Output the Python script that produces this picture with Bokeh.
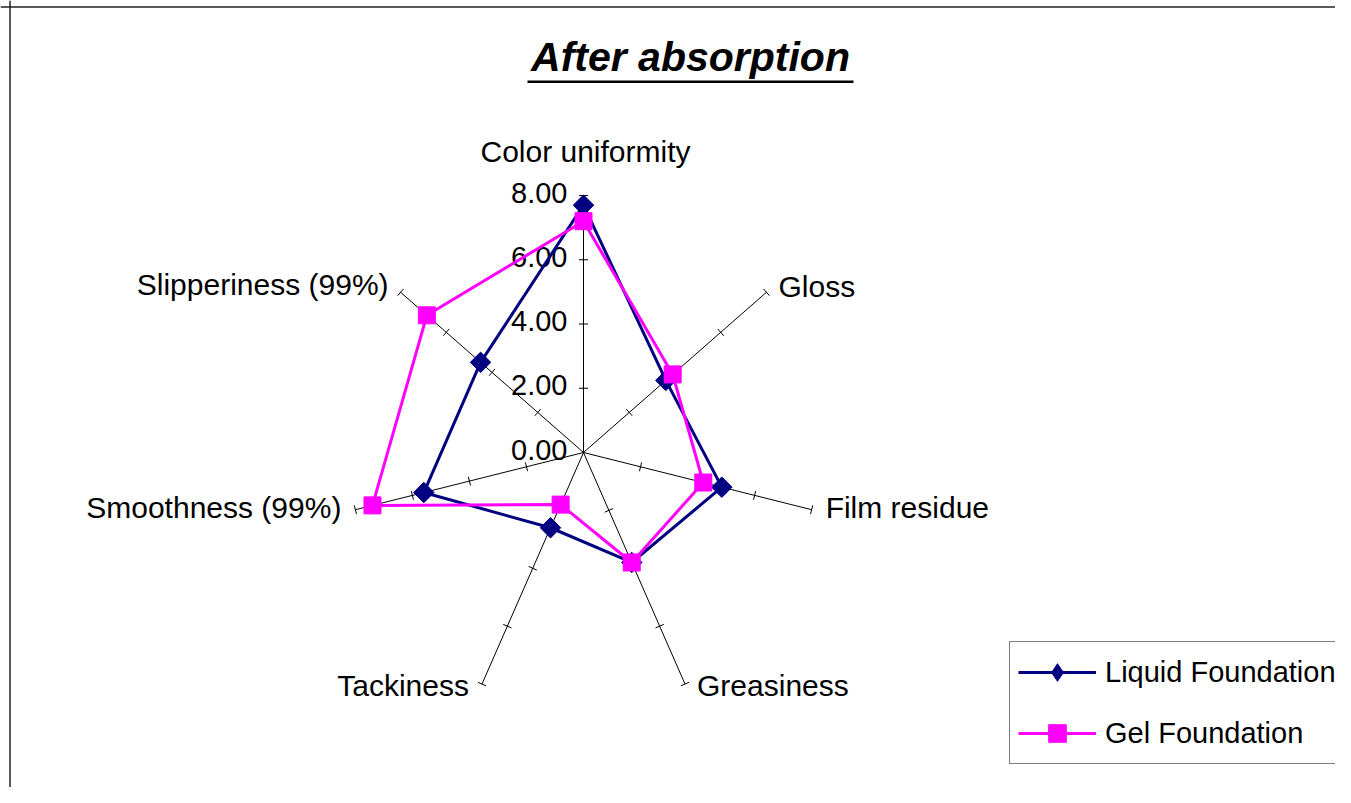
import numpy as np
from bokeh.plotting import figure
from bokeh.models import Legend, LegendItem, BoxAnnotation, Span, Label
from bokeh.core.properties import value
from bokeh.embed import file_html
from bokeh.resources import INLINE

# ---------------- data ----------------
categories = ["Color uniformity", "Gloss", "Film residue", "Greasiness",
              "Tackiness", "Smoothness (99%)", "Slipperiness (99%)"]
liquid_foundation = [7.7, 3.6, 4.85, 3.8, 2.6, 5.6, 4.5]
gel_foundation = [7.2, 3.9, 4.2, 3.8, 1.8, 7.4, 6.85]
radial_ticks = [0, 2, 4, 6, 8]
radial_tick_labels = ["0.00", "2.00", "4.00", "6.00", "8.00"]
series_names = ["Liquid Foundation", "Gel Foundation"]
chart_title = "After absorption"
r_max = 8

# ---------------- layout / style ----------------
W, H = 1335, 787
CX, CY = 583, 452                        # radar centre in frame pixels
SX, SY = 234 / r_max, 257 / r_max        # pixels per unit (x, y)
FONT = "Liberation Sans"
NAVY = "#000080"
MAGENTA = "#FF00FF"


def to_data(px, py):
    """frame pixel -> data coordinates"""
    return (px - CX) / SX, (CY - py) / SY


xa, yb = to_data(0, 0)
xb, ya = to_data(W, H)

p = figure(width=W, height=H, x_range=(xa, xb), y_range=(ya, yb),
           x_axis_location=None, y_axis_location=None,
           output_backend="svg", toolbar_location=None, min_border=0)
p.outline_line_color = None
p.grid.visible = False
p.background_fill_color = "white"
p.border_fill_color = "white"

n = len(categories)
theta = np.pi / 2 - 2 * np.pi * np.arange(n) / n
cs, sn = np.cos(theta), np.sin(theta)

# spokes
p.segment(x0=np.zeros(n), y0=np.zeros(n), x1=r_max * cs, y1=r_max * sn,
          line_color="black", line_width=1)

# tick marks perpendicular (in screen space) to each spoke
half = 4.5
tx0, ty0, tx1, ty1 = [], [], [], []
for k in range(n):
    dx, dy = SX * cs[k], SY * sn[k]
    L = np.hypot(dx, dy)
    nx, ny = -dy / L, dx / L
    for t in radial_ticks[1:]:
        cx, cy = t * cs[k], t * sn[k]
        tx0.append(cx - nx * half / SX)
        ty0.append(cy - ny * half / SY)
        tx1.append(cx + nx * half / SX)
        ty1.append(cy + ny * half / SY)
p.segment(x0=tx0, y0=ty0, x1=tx1, y1=ty1, line_color="black", line_width=1)

# radial value labels
p.text(x=[0] * len(radial_ticks), y=radial_ticks, text=radial_tick_labels,
       x_offset=-16, y_offset=-3, text_align="right", text_baseline="alphabetic",
       text_font=value(FONT), text_font_size="29px", text_color="black")

# category labels
cat_x_off = [2, 12, 14, 12, -13, -14, -12]
cat_y_off = [-44, -6, -2, 1.5, 1.5, -2, -8]
cat_align = ["center", "left", "left", "left", "right", "right", "right"]
p.text(x=r_max * cs, y=r_max * sn, text=categories,
       x_offset=cat_x_off, y_offset=cat_y_off, text_align=cat_align,
       text_baseline="alphabetic", text_font=value(FONT),
       text_font_size="30px", text_color="black")


def closed(a):
    a = list(a)
    return a + [a[0]]


liq = np.array(liquid_foundation)
gel = np.array(gel_foundation)

liq_line = p.line(closed(liq * cs), closed(liq * sn), line_color=NAVY, line_width=3)
p.scatter(liq * cs, liq * sn, marker="square", angle=np.pi / 4, size=14.5,
          fill_color=NAVY, line_color=NAVY)
gel_line = p.line(closed(gel * cs), closed(gel * sn), line_color=MAGENTA, line_width=3)
gel_pts = p.scatter(gel * cs, gel * sn, marker="square", size=17,
                    fill_color=MAGENTA, line_color=MAGENTA)

# legend-only diamond marker for the liquid series
liq_leg_marker = p.scatter([np.nan], [np.nan], marker="diamond", size=20,
                           fill_color=NAVY, line_color=NAVY)

legend = Legend(items=[LegendItem(label=series_names[0], renderers=[liq_line, liq_leg_marker]),
                       LegendItem(label=series_names[1], renderers=[gel_line, gel_pts])],
                location=(1009, 23), orientation="vertical",
                border_line_color="black", border_line_width=1,
                background_fill_color="white", background_fill_alpha=1,
                padding=8, spacing=17, margin=0,
                glyph_width=78, glyph_height=44, label_standoff=9,
                label_text_font=FONT, label_text_font_size="29px",
                label_text_color="black")
p.add_layout(legend)

# title with underline
tx, ty = to_data(690, 56)
p.add_layout(Label(x=tx, y=ty, text=chart_title, text_align="center",
                   text_baseline="alphabetic", text_font=FONT,
                   text_font_size="41px", text_font_style="bold italic",
                   text_color="black"))
ul_l, ul_t = to_data(527, 80)
ul_r, ul_b = to_data(853, 82.5)
p.add_layout(BoxAnnotation(left=ul_l, right=ul_r, top=ul_t, bottom=ul_b,
                           fill_color="black", fill_alpha=1, line_color=None))

# outer chart border (left and top edges visible in the crop)
bx, _ = to_data(9.5, 0)
_, by = to_data(0, 6.5)
p.add_layout(Span(location=bx, dimension="height", line_color="#222222", line_width=1.5))
p.add_layout(Span(location=by, dimension="width", line_color="#222222", line_width=1.5))

open("out.html", "w").write(file_html(p, INLINE))
